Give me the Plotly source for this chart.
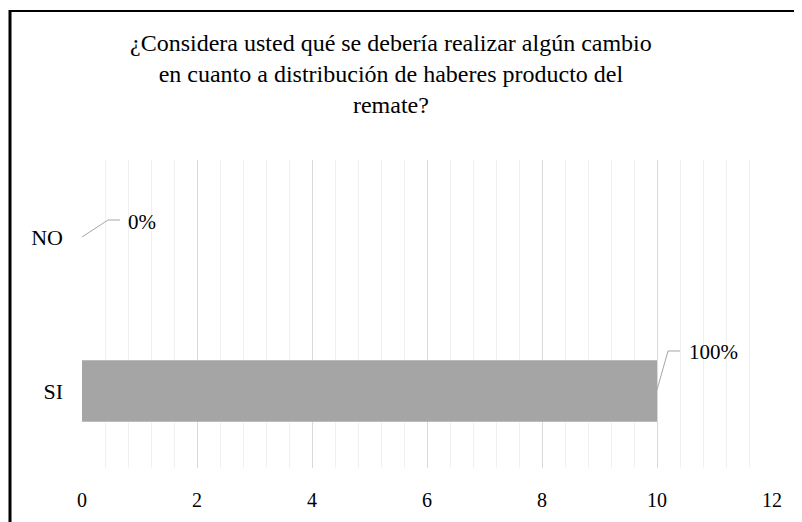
import plotly.graph_objects as go

categories = ["SI", "NO"]
values = [10, 0]
title_lines = ["¿Considera usted qué se debería realizar algún cambio",
               "en cuanto a distribución de haberes producto del",
               "remate?"]
x_ticks = [0, 2, 4, 6, 8, 10, 12]

FONT = "Liberation Serif"
OFF = 8  # page body margin
W, H = 802 - OFF, 522 - OFF
L, R, T, B = 74, 30, 152, 54
PW, PH = W - L - R, H - T - B

def px(x):
    return (x - OFF - L) / PW

def py(y):
    return (H - B - (y - OFF)) / PH

total = sum(values)
pcts = [f"{round(v / total * 100)}%" for v in values]

fig = go.Figure()
fig.add_trace(go.Bar(
    x=values, y=categories, orientation="h",
    marker=dict(color="#a5a5a5", line=dict(width=0)),
    hoverinfo="skip", showlegend=False,
))

# leader-line offsets (pixels) and label offsets per category
leader = {"NO": ((0, 0), (26, 17), (38, 17)), "SI": ((0, 1), (11, 40), (23, 40))}
label_shift = {"NO": (44, 15), "SI": (30, 39)}

shapes = []
annotations = []
for c, v, p in zip(categories, values, pcts):
    pts = leader[c]
    path = "M" + " L".join(f"{a},{b}" for a, b in pts)
    shapes.append(dict(type="path", xref="x", yref="y", xsizemode="pixel", ysizemode="pixel",
                       xanchor=v, yanchor=c, path=path,
                       line=dict(color="#a6a6a6", width=1)))
    dx, dy = label_shift[c]
    annotations.append(dict(x=v, y=c, xref="x", yref="y", text=p, showarrow=False,
                            xanchor="left", yanchor="middle", xshift=dx, yshift=dy,
                            font=dict(family=FONT, size=21, color="#000000")))

annotations.append(dict(x=px(391), y=py(28), xref="paper", yref="paper",
                        text="<br>".join(title_lines), showarrow=False,
                        xanchor="center", yanchor="top", align="center",
                        font=dict(family=FONT, size=24, color="#000000")))

# outer chart border (extends past the right and bottom edges)
shapes.append(dict(type="line", xref="paper", yref="paper", x0=px(10), x1=px(10),
                   y0=py(10), y1=py(540), line=dict(color="#000000", width=3)))
shapes.append(dict(type="line", xref="paper", yref="paper", x0=px(9), x1=px(820),
                   y0=py(11), y1=py(11), line=dict(color="#000000", width=2)))

fig.update_layout(
    width=W, height=H,
    margin=dict(l=L, r=R, t=T, b=B, pad=0),
    paper_bgcolor="white", plot_bgcolor="white",
    bargap=0.6,
    font=dict(family=FONT, color="#000000"),
    shapes=shapes, annotations=annotations,
    xaxis=dict(range=[0, 12], tickvals=x_ticks, ticktext=[str(t) for t in x_ticks],
               showgrid=True, gridcolor="#d9d9d9", gridwidth=1,
               zeroline=False, showline=False, ticks="",
               tickfont=dict(family=FONT, size=20, color="#000000"), ticklabelstandoff=18,
               minor=dict(dtick=0.4, tick0=0, showgrid=True, gridcolor="#f0f0f0", gridwidth=1)),
    yaxis=dict(categoryorder="array", categoryarray=categories,
               showgrid=False, zeroline=False, showline=False, ticks="",
               tickfont=dict(family=FONT, size=22, color="#000000"), ticklabelstandoff=18),
)

fig.write_html("out.html")
